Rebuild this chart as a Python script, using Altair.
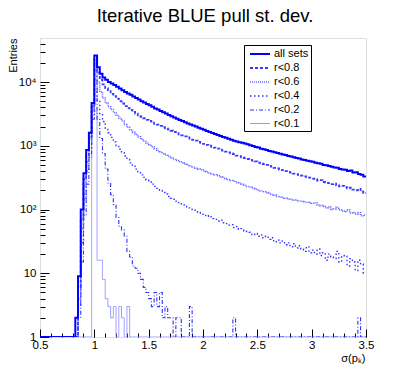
import altair as alt
import pandas as pd

# ---- data (bin width 0.025, bins start at 0.800 ... 3.475) ----
bin_start = 0.8
bin_width = 0.025
series_names = ["all sets", "r<0.8", "r<0.6", "r<0.4", "r<0.2", "r<0.1"]

all_sets = [
    0, 2, 9, 100, 370, 860, 1600, 4700,
    26000, 17000, 13500, 11800, 10800, 10000, 9500, 9000,
    8400, 7900, 7400, 7000, 6600, 6300, 5900, 5600,
    5300, 5000, 4750, 4500, 4300, 4100, 3850, 3700,
    3500, 3350, 3200, 3050, 2900, 2780, 2650, 2540,
    2450, 2330, 2240, 2150, 2080, 2000, 1920, 1850,
    1780, 1700, 1650, 1580, 1530, 1470, 1420, 1370,
    1330, 1290, 1240, 1200, 1170, 1130, 1110, 1080,
    1060, 1020, 990, 960, 940, 900, 880, 860,
    830, 810, 790, 770, 750, 730, 715, 690,
    680, 660, 640, 630, 610, 600, 580, 570,
    560, 540, 530, 520, 500, 495, 480, 470,
    455, 450, 430, 425, 420, 400, 410, 380,
    385, 360, 350, 330,
]
r08 = [
    0, 1, 6, 70, 300, 700, 1350, 4000,
    23000, 14000, 10800, 9200, 8000, 7200, 6500, 6000,
    5500, 5000, 4600, 4200, 3900, 3650, 3400, 3200,
    3000, 2850, 2700, 2550, 2450, 2300, 2200, 2150,
    2050, 1950, 1880, 1800, 1720, 1650, 1580, 1510,
    1460, 1400, 1350, 1290, 1240, 1200, 1150, 1110,
    1070, 1030, 1000, 960, 935, 900, 870, 840,
    810, 790, 760, 740, 700, 690, 660, 640,
    620, 600, 585, 570, 545, 530, 515, 500,
    485, 470, 450, 440, 420, 415, 400, 390,
    380, 365, 360, 345, 340, 330, 320, 315,
    305, 300, 285, 290, 270, 265, 260, 250,
    255, 240, 230, 235, 225, 215, 220, 205,
    200, 210, 190, 180,
]
r06 = [
    0, 1, 4, 50, 230, 560, 1150, 3500,
    20000, 10000, 7000, 5600, 4700, 4100, 3700, 3300,
    3000, 2700, 2450, 2150, 1950, 1780, 1620, 1500,
    1380, 1270, 1180, 1100, 1030, 960, 900, 840,
    800, 750, 710, 680, 640, 610, 585, 560,
    540, 515, 500, 480, 465, 445, 430, 420,
    400, 390, 375, 360, 350, 340, 325, 320,
    305, 295, 285, 280, 265, 260, 250, 240,
    230, 225, 215, 210, 200, 195, 190, 185,
    180, 172, 168, 160, 157, 152, 150, 146,
    145, 141, 140, 136, 135, 131, 130, 127,
    125, 128, 118, 115, 112, 106, 110, 100,
    102, 108, 98, 95, 92, 99, 88, 90,
    84, 89, 80, 82,
]
r04 = [
    0, 0, 3, 30, 150, 400, 900, 3000,
    15000, 5000, 3200, 2400, 1900, 1600, 1350, 1150,
    1000, 880, 780, 690, 610, 540, 480, 430,
    390, 350, 320, 290, 270, 250, 230, 215,
    200, 185, 175, 160, 150, 145, 135, 128,
    122, 118, 110, 106, 100, 98, 90, 88,
    84, 78, 80, 72, 70, 66, 68, 62,
    60, 57, 58, 52, 54, 49, 50, 46,
    45, 44, 40, 42, 38, 40, 36, 38,
    34, 36, 31, 33, 30, 32, 28, 30,
    26, 29, 25, 27, 24, 22, 26, 21,
    23, 20, 24, 19, 21, 16, 20, 18,
    17, 22, 15, 18, 19, 13, 17, 15,
    11, 16, 14, 10,
]
r02 = [
    0, 0, 2, 15, 80, 250, 650, 2600,
    11000, 2600, 1300, 750, 430, 260, 170, 120,
    75, 55, 48, 38, 22, 18, 13, 12,
    10, 8, 6, 5, 4, 3, 5, 3,
    5, 2, 3, 2, 2, 1, 2, 2,
    0, 1, 0, 3, 0, 0, 0, 0,
    0, 0, 0, 0, 0, 0, 0, 0,
    0, 0, 0, 2, 0, 0, 0, 0,
    0, 0, 0, 0, 0, 0, 0, 0,
    0, 0, 0, 0, 0, 0, 0, 0,
    0, 0, 0, 0, 0, 0, 0, 0,
    0, 0, 0, 0, 0, 0, 0, 0,
    0, 0, 0, 0, 0, 0, 0, 0,
    0, 2, 0, 0,
]
r01 = [
    0, 0, 0, 0, 0, 0, 0, 4300,
    3500, 16, 16, 8, 4, 3, 2, 3,
    1, 3, 2, 0, 3, 0, 0, 0,
] + [0] * 84

series_values = [all_sets, r08, r06, r04, r02, r01]

x_major = [0.5, 1.0, 1.5, 2.0, 2.5, 3.0, 3.5]
x_minor = [0.5, 0.6, 0.7, 0.8, 0.9, 1.0, 1.1, 1.2, 1.3, 1.4, 1.5, 1.6, 1.7, 1.8, 1.9,
           2.0, 2.1, 2.2, 2.3, 2.4, 2.5, 2.6, 2.7, 2.8, 2.9, 3.0, 3.1, 3.2, 3.3, 3.4, 3.5]
y_major = [1, 10, 100, 1000, 10000]
y_minor = [2, 3, 4, 5, 6, 7, 8, 9, 20, 30, 40, 50, 60, 70, 80, 90,
           200, 300, 400, 500, 600, 700, 800, 900,
           2000, 3000, 4000, 5000, 6000, 7000, 8000, 9000, 20000, 30000, 40000]

# ---- styles ----
colors = ["#0000ff", "#3a3aff", "#6a6aff", "#3030ff", "#3030ff", "#8c8cff"]
dashes = [[1, 0], [3, 2], [1, 1], [1.5, 2.5], [4, 2, 1, 2], [1, 0]]
widths = [2, 0.9, 0.9, 0.9, 0.9, 2]
FONT = "Liberation Sans"

# ---- build table (histogram steps) ----
rows = []
draw_order = [5, 4, 3, 2, 1, 0]
for k in draw_order:
    name, vals = series_names[k], series_values[k]
    rows.append({"x": 0.5, "v": 0.5, "series": name})
    for i, c in enumerate(vals):
        rows.append({"x": round(bin_start + i * bin_width, 4),
                     "v": c if c > 0 else 0.5, "series": name})
    last = vals[-1]
    rows.append({"x": 3.5, "v": last if last > 0 else 0.5, "series": name})
df = pd.DataFrame(rows)

W, H = 326, 299
xscale = alt.Scale(domain=[0.5, 3.5], nice=False, zero=False)
yscale = alt.Scale(type="log", domain=[1, 49000], nice=False, clamp=True)

nbsp = "\u00a0" * 15
leg = alt.Legend(
    title=None, orient="none", legendX=204, legendY=7,
    strokeColor="#000000", fillColor="#ffffff", padding=2,
    labelFont=FONT, labelFontSize=11, labelColor="#000000",
    symbolType="M-0.5,0H2.833", symbolSize=144, labelOffset=14, rowPadding=2,
    labelExpr="datum.label + '" + nbsp + "'",
)

ylab_expr = ("datum.value == 1 ? '1' : datum.value == 10 ? '10' : "
             "datum.value == 100 ? '10\u00b2' : datum.value == 1000 ? '10\u00b3' : '10\u2074'")

main = alt.Chart(df).mark_line(interpolate="step-after", clip=True).encode(
    x=alt.X("x:Q", scale=xscale, axis=alt.Axis(
        orient="bottom", values=x_major, format="~g", ticks=False, domain=False, grid=False,
        labelFont=FONT, labelFontSize=11.5, labelColor="#000000", labelPadding=2,
        labelFlush=False, labelOverlap=False,
        title="σ(pₖ)", titleFont=FONT, titleFontSize=11, titleFontWeight="normal",
        titleColor="#000000", titleAnchor="end", titleAlign="right", titleX=325, titleY=24,
        titleBaseline="alphabetic")),
    y=alt.Y("v:Q", scale=yscale, axis=alt.Axis(
        orient="left", values=y_major, labelExpr=ylab_expr, ticks=False, domain=False, grid=False,
        labelFont=FONT, labelFontSize=11.5, labelColor="#000000", labelPadding=4,
        labelOverlap=False, labelFlush=False,
        title="Entries", titleFont=FONT, titleFontSize=11, titleFontWeight="normal",
        titleColor="#000000", titleAngle=270, titleAlign="right", titleBaseline="middle",
        titleX=-27, titleY=0)),
    color=alt.Color("series:N", scale=alt.Scale(domain=series_names, range=colors), legend=leg),
    strokeDash=alt.StrokeDash("series:N", scale=alt.Scale(domain=series_names, range=dashes), legend=leg),
    strokeWidth=alt.StrokeWidth("series:N", scale=alt.Scale(domain=series_names, range=widths), legend=leg),
)

def tick_layer(xv, yv, xlen, ylen):
    return alt.Chart(df).mark_point(opacity=0).encode(
        x=alt.X("x:Q", scale=xscale, axis=alt.Axis(
            orient="top", offset=-H, values=xv, tickSize=xlen, labels=False, domain=False,
            grid=False, title=None, tickColor="#000000", tickWidth=1)),
        y=alt.Y("v:Q", scale=yscale, axis=alt.Axis(
            orient="right", offset=-W, values=yv, tickSize=ylen, labels=False, domain=False,
            grid=False, title=None, tickColor="#000000", tickWidth=1)),
    )

chart = alt.layer(
    main,
    tick_layer(x_major, y_major, 8, 9),
    tick_layer(x_minor, y_minor, 4, 5),
).resolve_scale(x="independent", y="independent").properties(
    width=W, height=H,
    autosize=alt.AutoSizeParams(type="none"),
    padding={"left": 32, "top": 30, "right": 33, "bottom": 29},
    title=alt.Title("Iterative BLUE pull st. dev.", font=FONT, fontSize=18.5, fontWeight="normal",
                    color="#000000", anchor="middle", frame="group", offset=17,
                    baseline="alphabetic", dx=2, dy=19),
).configure_view(stroke="#000000", strokeWidth=1).configure(background="#ffffff")

chart.save("out.html", embed_options={"renderer": "svg", "actions": False})
